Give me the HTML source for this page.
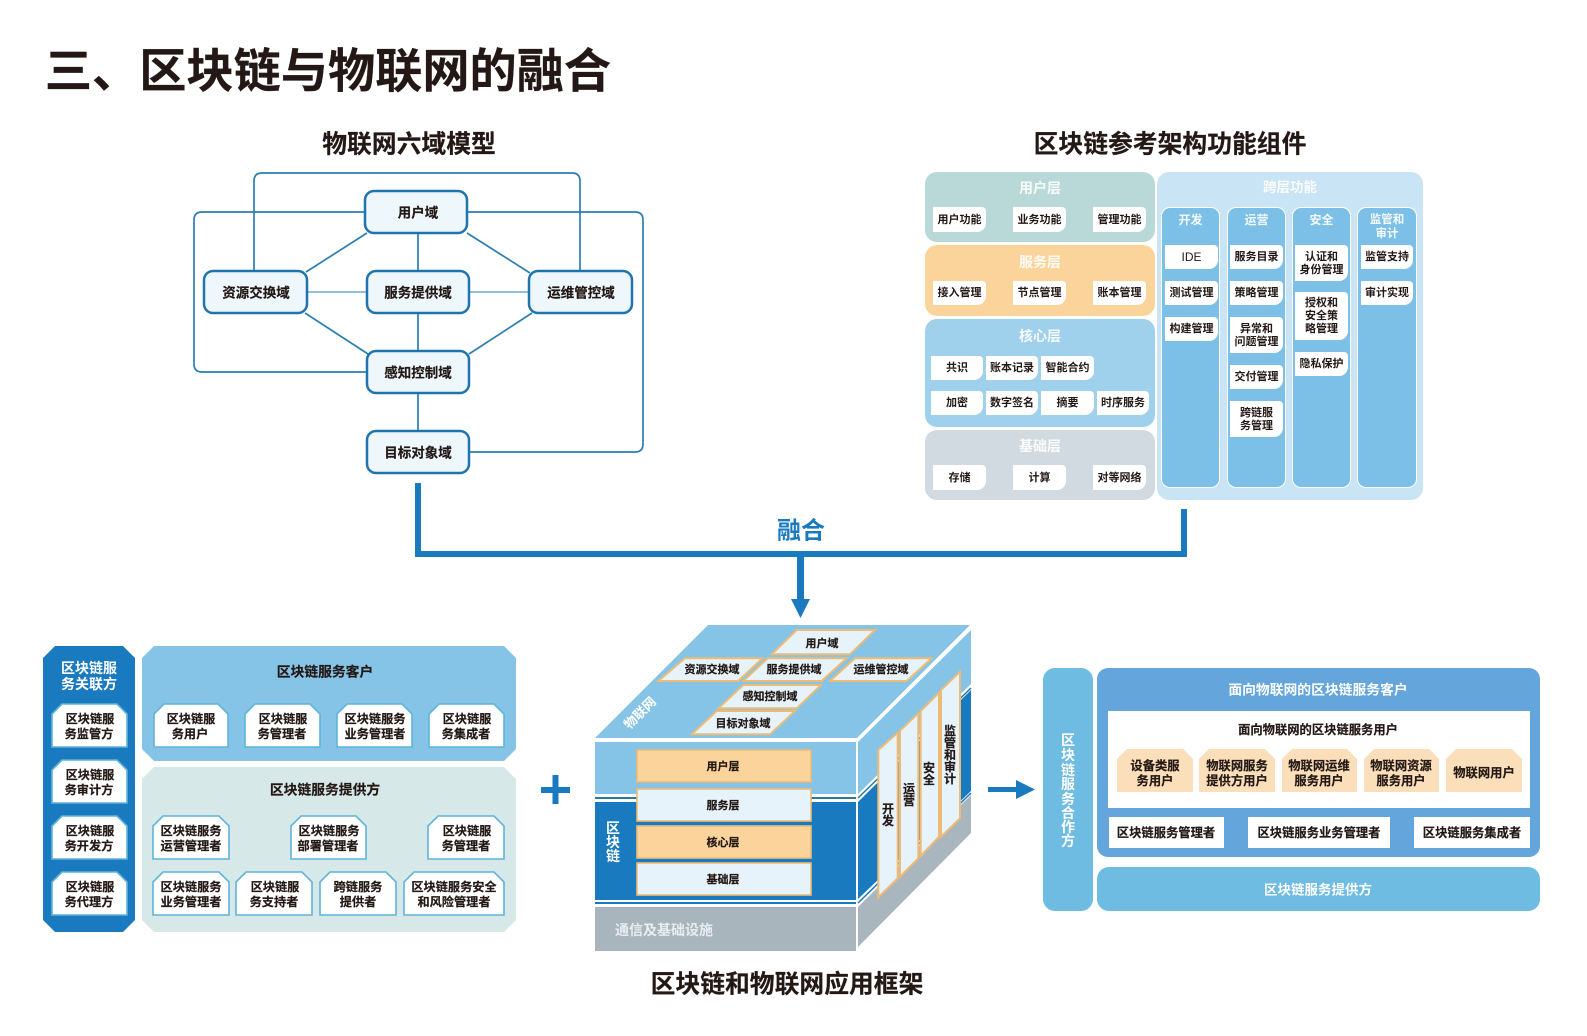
<!DOCTYPE html>
<html lang="zh"><head><meta charset="utf-8"><title>区块链与物联网的融合</title>
<style>
html,body{margin:0;padding:0;background:#fff}
body{position:relative;width:1587px;height:1036px;overflow:hidden;font-family:"Liberation Sans","Noto Sans CJK SC",sans-serif;font-weight:700}
svg{position:absolute;left:0;top:0}
svg text{text-anchor:middle;dominant-baseline:central;font-weight:700;font-family:"Liberation Sans","Noto Sans CJK SC",sans-serif;transform:translateY(1px)}
.k{fill:#231815}
.k text,text.k{stroke:#231815;stroke-width:.2px}
.w{fill:#fff}
.p{position:absolute;border-radius:12px}
.l{position:absolute;background:#fff;border-radius:0 4px 9px 0;color:#231815;font-size:11px;line-height:13px;display:flex;align-items:center;justify-content:center;text-align:center;padding-top:1px;box-sizing:border-box}
.t{position:absolute;color:#fff;font-size:14px;text-align:center;line-height:14px;opacity:.92}
.c{position:absolute;background:#7cc0e8;border:1.5px solid #fff;border-radius:9px;box-sizing:border-box;top:207px;height:281px}
</style></head><body>
<!-- top right panels -->
<div class="p" style="left:925px;top:172px;width:230px;height:70px;background:#b9d8d8"></div>
<div class="p" style="left:925px;top:245px;width:230px;height:71px;background:#fbd49c"></div>
<div class="p" style="left:925px;top:319px;width:230px;height:108px;background:#9fd0ec"></div>
<div class="p" style="left:925px;top:430px;width:230px;height:70px;background:#d0dae0"></div>
<div class="p" style="left:1157px;top:172px;width:266px;height:328px;background:#c9e4f4"></div>
<div class="t" style="left:925px;top:181px;width:230px">用户层</div>
<div class="t" style="left:925px;top:255px;width:230px">服务层</div>
<div class="t" style="left:925px;top:329px;width:230px">核心层</div>
<div class="t" style="left:925px;top:439px;width:230px">基础层</div>
<div class="t" style="left:1157px;top:181px;width:266px;font-size:13.5px">跨层功能</div>
<div class="c" style="left:1161px;width:59px"></div>
<div class="c" style="left:1227px;width:59px"></div>
<div class="c" style="left:1292px;width:59px"></div>
<div class="c" style="left:1357px;width:60px"></div>
<div class="t" style="left:1161px;top:213px;width:59px;font-size:12px">开发</div>
<div class="t" style="left:1227px;top:213px;width:59px;font-size:12px">运营</div>
<div class="t" style="left:1292px;top:213px;width:59px;font-size:12px">安全</div>
<div class="t" style="left:1357px;top:213px;width:60px;font-size:11.5px">监管和<br>审计</div>
<div class="l" style="left:933px;top:207px;width:53px;height:25px">用户功能</div>
<div class="l" style="left:1013px;top:207px;width:53px;height:25px">业务功能</div>
<div class="l" style="left:1093px;top:207px;width:53px;height:25px">管理功能</div>
<div class="l" style="left:933px;top:281px;width:53px;height:24px">接入管理</div>
<div class="l" style="left:1013px;top:281px;width:53px;height:24px">节点管理</div>
<div class="l" style="left:1093px;top:281px;width:53px;height:24px">账本管理</div>
<div class="l" style="left:931px;top:356px;width:52px;height:24px">共识</div>
<div class="l" style="left:986px;top:356px;width:52px;height:24px">账本记录</div>
<div class="l" style="left:1041px;top:356px;width:53px;height:24px">智能合约</div>
<div class="l" style="left:931px;top:391px;width:52px;height:24px">加密</div>
<div class="l" style="left:986px;top:391px;width:52px;height:24px">数字签名</div>
<div class="l" style="left:1041px;top:391px;width:53px;height:24px">摘要</div>
<div class="l" style="left:1097px;top:391px;width:52px;height:24px">时序服务</div>
<div class="l" style="left:933px;top:465px;width:53px;height:25px">存储</div>
<div class="l" style="left:1013px;top:465px;width:53px;height:25px">计算</div>
<div class="l" style="left:1093px;top:465px;width:53px;height:25px">对等网络</div>
<div class="l" style="left:1165px;top:245px;width:53px;height:24px;font-weight:400;font-size:12px">IDE</div>
<div class="l" style="left:1165px;top:281px;width:53px;height:24px">测试管理</div>
<div class="l" style="left:1165px;top:317px;width:53px;height:24px">构建管理</div>
<div class="l" style="left:1230px;top:245px;width:53px;height:24px">服务目录</div>
<div class="l" style="left:1230px;top:281px;width:53px;height:24px">策略管理</div>
<div class="l" style="left:1230px;top:317px;width:53px;height:36px">异常和<br>问题管理</div>
<div class="l" style="left:1230px;top:365px;width:53px;height:24px">交付管理</div>
<div class="l" style="left:1230px;top:401px;width:53px;height:36px">跨链服<br>务管理</div>
<div class="l" style="left:1295px;top:245px;width:53px;height:36px">认证和<br>身份管理</div>
<div class="l" style="left:1295px;top:292px;width:53px;height:48px">授权和<br>安全策<br>略管理</div>
<div class="l" style="left:1295px;top:352px;width:53px;height:24px">隐私保护</div>
<div class="l" style="left:1361px;top:245px;width:52px;height:24px">监管支持</div>
<div class="l" style="left:1361px;top:281px;width:52px;height:24px">审计实现</div>

<svg width="1587" height="1036" viewBox="0 0 1587 1036">
<!-- headings -->
<text class="k" x="328" y="71" font-size="47.2">三、区块链与物联网的融合</text>
<text class="k" x="409" y="144" font-size="24.8">物联网六域模型</text>
<text class="k" x="1170" y="144" font-size="24.8">区块链参考架构功能组件</text>
<text x="801" y="530" font-size="24" fill="#1a7abf">融合</text>
<text class="k" x="787" y="984" font-size="24.8">区块链和物联网应用框架</text>

<!-- six domain connectors -->
<g fill="none" stroke="#2a7fb0" stroke-width="1.7">
<path d="M254 270V181q0-8 8-8H572q8 0 8 8V270"/>
<path d="M365 212H202q-8 0-8 8V364q0 8 8 8H367"/>
<path d="M467 212H635q8 0 8 8V444q0 8-8 8H469"/>
<path d="M367 233L306 272M467 233L530 273M305 313L368 354M532 313L469 354"/>
<path d="M418 233V271M418 313V351M418 393V431"/>
<path d="M307 292H367M469 292H529" stroke-width="1"/>
</g>
<g fill="#eef7fc" stroke="#1f74ad" stroke-width="2.5">
<rect x="365" y="191" width="102" height="42" rx="9"/>
<rect x="204" y="271" width="103" height="42" rx="9"/>
<rect x="367" y="271" width="102" height="42" rx="9"/>
<rect x="529" y="271" width="103" height="42" rx="9"/>
<rect x="367" y="351" width="102" height="42" rx="9"/>
<rect x="367" y="431" width="102" height="42" rx="9"/>
</g>
<g class="k" font-size="13.5">
<text x="418" y="212">用户域</text>
<text x="256" y="292">资源交换域</text>
<text x="418" y="292">服务提供域</text>
<text x="581" y="292">运维管控域</text>
<text x="418" y="372">感知控制域</text>
<text x="418" y="452">目标对象域</text>
</g>

<!-- merge connector -->
<g fill="#1a7abf">
<rect x="415" y="483" width="6" height="74"/>
<rect x="1181" y="509" width="6" height="48"/>
<rect x="415" y="551" width="772" height="6"/>
<rect x="797" y="551" width="7" height="50"/>
<polygon points="791,599 810,599 800.5,618"/>
<rect x="541" y="787" width="29" height="6"/>
<rect x="552.5" y="775" width="6" height="29"/>
<rect x="988" y="787" width="30" height="5"/>
<polygon points="1016,780 1035,789.5 1016,799"/>
</g>

<!-- stakeholder left -->
<polygon points="55,646 123,646 135,658 135,920 123,932 55,932 43,920 43,658" fill="#1a7abf"/>
<polygon points="154,646 504,646 516,658 516,749 504,761 154,761 142,749 142,658" fill="#85c4e6"/>
<polygon points="154,767 504,767 516,779 516,920 504,932 154,932 142,920 142,779" fill="#d7e8e8"/>
<text class="w" x="89" y="667" font-size="14">区块链服</text>
<text class="w" x="89" y="683" font-size="14">务关联方</text>
<text class="k" x="325" y="671" font-size="13.8">区块链服务客户</text>
<text class="k" x="325" y="789" font-size="13.8">区块链服务提供方</text>
<g fill="#fff" stroke="#5fb3dc" stroke-width="1.6">
<polygon points="52,747 52,714 62,704 117,704 127,714 127,747"/>
<polygon points="52,803 52,770 62,760 117,760 127,770 127,803"/>
<polygon points="52,859 52,826 62,816 117,816 127,826 127,859"/>
<polygon points="52,915 52,882 62,872 117,872 127,882 127,915"/>
<polygon points="154,747 154,714 164,704 218,704 228,714 228,747"/>
<polygon points="245,747 245,714 255,704 310,704 320,714 320,747"/>
<polygon points="337,747 337,714 347,704 402,704 412,714 412,747"/>
<polygon points="429,747 429,714 439,704 494,704 504,714 504,747"/>
<polygon points="153,859 153,826 163,816 219,816 229,826 229,859"/>
<polygon points="291,859 291,826 301,816 356,816 366,826 366,859"/>
<polygon points="428,859 428,826 438,816 494,816 504,826 504,859"/>
<polygon points="153,915 153,882 163,872 219,872 229,882 229,915"/>
<polygon points="236,915 236,882 246,872 302,872 312,882 312,915"/>
<polygon points="320,915 320,882 330,872 386,872 396,882 396,915"/>
<polygon points="404,915 404,882 414,872 494,872 504,882 504,915"/>
</g>
<g class="k" font-size="12.2">
<text x="90" y="718">区块链服</text><text x="89" y="733">务监管方</text>
<text x="90" y="774">区块链服</text><text x="89" y="789">务审计方</text>
<text x="90" y="830">区块链服</text><text x="89" y="845">务开发方</text>
<text x="90" y="886">区块链服</text><text x="89" y="901">务代理方</text>
<text x="191" y="718">区块链服</text><text x="190" y="733">务用户</text>
<text x="283" y="718">区块链服</text><text x="282" y="733">务管理者</text>
<text x="375" y="718">区块链服务</text><text x="375" y="733">业务管理者</text>
<text x="467" y="718">区块链服</text><text x="466" y="733">务集成者</text>
<text x="191" y="830">区块链服务</text><text x="191" y="845">运营管理者</text>
<text x="329" y="830">区块链服务</text><text x="328" y="845">部署管理者</text>
<text x="467" y="830">区块链服</text><text x="466" y="845">务管理者</text>
<text x="191" y="886">区块链服务</text><text x="191" y="901">业务管理者</text>
<text x="275" y="886">区块链服</text><text x="274" y="901">务支持者</text>
<text x="358" y="886">跨链服务</text><text x="358" y="901">提供者</text>
<text x="454" y="886">区块链服务安全</text><text x="454" y="901">和风险管理者</text>
</g>

<!-- cube -->
<polygon points="595,738 708,625 970,625 857,738" fill="#85c4e6"/>
<rect x="595" y="742" width="261" height="52" fill="#85c4e6"/>
<rect x="595" y="797" width="261" height="2" fill="#2a7a9a"/>
<rect x="595" y="802" width="261" height="98" fill="#1a7abf"/>
<rect x="595" y="902" width="261" height="2" fill="#1a7abf"/>
<rect x="595" y="907" width="261" height="44" fill="#a9b5bc"/>
<polygon points="858,742 971,630 971,684 858,794" fill="#85c4e6"/>
<path d="M858,798L971,688" stroke="#2a7a9a" stroke-width="1.5"/>
<polygon points="858,802 971,690 971,791 858,899" fill="#1a7abf"/>
<path d="M858,903L971,793" stroke="#1a7abf" stroke-width="1.5"/>
<polygon points="858,907 971,795 971,833 858,947" fill="#aab6bd"/>
<g fill="#e6f3fb" stroke="#eebb76" stroke-width="2">
<polygon points="771.7,654.3 796.7,630 875,630 850,654.3"/>
<polygon points="658.3,681 685,658.3 762.3,658.3 738.3,681"/>
<polygon points="743.3,681 767.7,658.3 846.7,658.3 821.7,681"/>
<polygon points="830,681 855,658.3 931.7,658.3 906.7,681"/>
<polygon points="718.3,708.3 743.3,685 821,685 796.7,708.3"/>
<polygon points="691.7,734.3 716.7,711 795,711 770,734.3"/>
<polygon points="878.3,750 897.7,732.7 897.7,878.3 878.3,897.3"/>
<polygon points="900,730.7 918.3,713.3 918.3,858.3 900,876.7"/>
<polygon points="920.7,711 939,692.7 939,836.7 920.7,856"/>
<polygon points="941,690 960,671.7 960,818.3 941,836.7"/>
</g>
<g class="k" font-size="11">
<text x="822" y="643">用户域</text>
<text x="712" y="669">资源交换域</text>
<text x="794" y="669">服务提供域</text>
<text x="881" y="669">运维管控域</text>
<text x="770" y="696">感知控制域</text>
<text x="743" y="723">目标对象域</text>
</g>
<text class="w" font-size="13" style="transform:translate(640px,713px) rotate(-45deg)">物联网</text>
<g stroke-width="1.6">
<rect x="637" y="750" width="174" height="32" fill="#fbd49c" stroke="#eebb76"/>
<rect x="637" y="789" width="174" height="32" fill="#e6f3fb" stroke="#eebb76"/>
<rect x="637" y="826" width="174" height="32" fill="#fbd49c" stroke="#eebb76"/>
<rect x="637" y="863" width="174" height="32" fill="#e6f3fb" stroke="#eebb76"/>
</g>
<g class="k" font-size="11">
<text x="723" y="766">用户层</text>
<text x="723" y="805">服务层</text>
<text x="723" y="842">核心层</text>
<text x="723" y="879">基础层</text>
</g>
<g class="w" font-size="14">
<text x="613" y="827">区</text><text x="613" y="841">块</text><text x="613" y="855">链</text>
</g>
<text x="664" y="929" font-size="14" fill="#e8eef0">通信及基础设施</text>
<g class="k" font-size="12">
<text x="888" y="808">开</text><text x="888" y="820">发</text>
<text x="909" y="788">运</text><text x="909" y="800">营</text>
<text x="929" y="767">安</text><text x="929" y="779">全</text>
<text x="950" y="730">监</text><text x="950" y="742">管</text><text x="950" y="754">和</text><text x="950" y="766">审</text><text x="950" y="778">计</text>
</g>

<!-- right block -->
<rect x="1043" y="668" width="50" height="243" rx="12" fill="#6fbce2"/>
<rect x="1097" y="668" width="443" height="189" rx="11" fill="#64a6db"/>
<rect x="1097" y="867" width="443" height="44" rx="12" fill="#6fbce2"/>
<rect x="1108" y="711" width="422" height="97" fill="#fff"/>
<g class="w" font-size="14">
<text x="1068" y="739">区</text><text x="1068" y="754">块</text><text x="1068" y="769">链</text><text x="1068" y="783">服</text><text x="1068" y="798">务</text><text x="1068" y="812">合</text><text x="1068" y="826">作</text><text x="1068" y="840">方</text>
</g>
<text class="w" x="1318" y="689" font-size="13.8">面向物联网的区块链服务客户</text>
<text class="k" x="1318" y="729" font-size="12.3">面向物联网的区块链服务用户</text>
<text class="w" x="1318" y="889" font-size="13.5">区块链服务提供方</text>
<g fill="#fbdfba">
<polygon points="1117,792 1117,759 1127,749 1183,749 1193,759 1193,792"/>
<polygon points="1199,792 1199,759 1209,749 1265,749 1275,759 1275,792"/>
<polygon points="1282,792 1282,759 1292,749 1347,749 1357,759 1357,792"/>
<polygon points="1364,792 1364,759 1374,749 1429,749 1439,759 1439,792"/>
<polygon points="1446,792 1446,759 1456,749 1512,749 1522,759 1522,792"/>
</g>
<g class="k" font-size="12.3">
<text x="1155" y="765">设备类服</text><text x="1155" y="780">务用户</text>
<text x="1237" y="765">物联网服务</text><text x="1237" y="780">提供方用户</text>
<text x="1319" y="765">物联网运维</text><text x="1319" y="780">服务用户</text>
<text x="1401" y="765">物联网资源</text><text x="1401" y="780">服务用户</text>
<text x="1484" y="772">物联网用户</text>
</g>
<g fill="#fff">
<rect x="1109" y="817" width="115" height="31"/>
<rect x="1248" y="817" width="142" height="31"/>
<rect x="1414" y="817" width="116" height="31"/>
</g>
<g class="k" font-size="12.3">
<text x="1166" y="832">区块链服务管理者</text>
<text x="1319" y="832">区块链服务业务管理者</text>
<text x="1472" y="832">区块链服务集成者</text>
</g>
</svg>
</body></html>
